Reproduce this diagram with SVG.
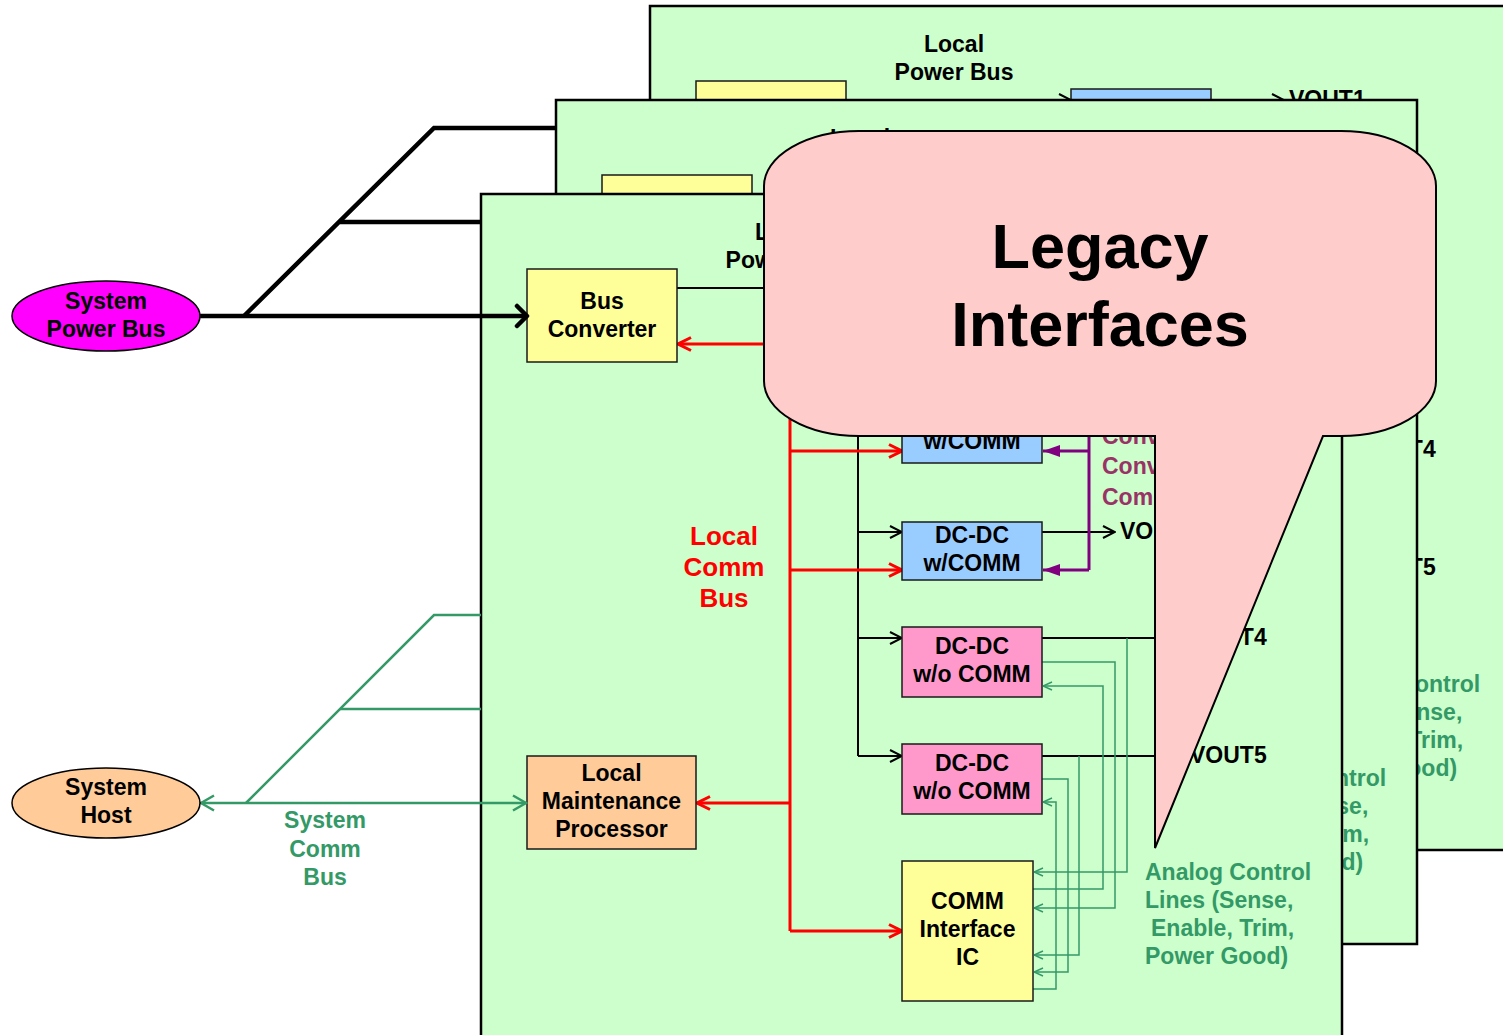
<svg xmlns="http://www.w3.org/2000/svg" width="1503" height="1035" viewBox="0 0 1503 1035">
<style>
.panel{fill:#CCFFCC;stroke:#000;stroke-width:2.5}
.box{stroke:#1a1a1a;stroke-width:1.5}
.yellow{fill:#FFFF99}
.blue{fill:#99CCFF}
.pink{fill:#FF99CC}
.orange{fill:#FFCC99}
.magenta{fill:#FF00FF}
text{font-family:"Liberation Sans",Arial,sans-serif;font-weight:bold;font-size:23px;fill:#000}
.c{text-anchor:middle}
.red-t{fill:#FF0000;font-size:26px}
.grn-t{fill:#339966}
.pur-t{fill:#993366}
.big{font-size:63px}
.w-thin{fill:none;stroke:#000;stroke-width:2}
.w-red{fill:none;stroke:#FF0000;stroke-width:3}
.w-pur{fill:none;stroke:#800080;stroke-width:3}
.w-ana{fill:none;stroke:#339966;stroke-width:1.5}
.w-pwr{fill:none;stroke:#000;stroke-width:4.5}
.w-sys{fill:none;stroke:#339966;stroke-width:2.5}
</style>
<defs>
<marker id="aPwr" markerUnits="userSpaceOnUse" viewBox="0 0 16 26" markerWidth="16" markerHeight="26" refX="13" refY="13" orient="auto"><path d="M3,3 L13,13 L3,23" fill="none" stroke="#000" stroke-width="4.5" stroke-linecap="round" stroke-linejoin="round"/></marker>
<marker id="aBlk" markerUnits="userSpaceOnUse" viewBox="0 0 14 14" markerWidth="14" markerHeight="14" refX="13" refY="7" orient="auto"><path d="M1,1 L13,7 L1,13" fill="none" stroke="#000" stroke-width="2"/></marker>
<marker id="aRed" markerUnits="userSpaceOnUse" viewBox="0 0 16 16" markerWidth="16" markerHeight="16" refX="14" refY="8" orient="auto"><path d="M1,1.5 L14,8 L1,14.5" fill="none" stroke="#FF0000" stroke-width="3"/></marker>
<marker id="aPur" markerUnits="userSpaceOnUse" viewBox="0 0 18 14" markerWidth="18" markerHeight="14" refX="17" refY="7" orient="auto"><path d="M0,1 L17,7 L0,13 Z" fill="#800080"/></marker>
<marker id="aSys" markerUnits="userSpaceOnUse" viewBox="0 0 16 18" markerWidth="16" markerHeight="18" refX="14" refY="9" orient="auto-start-reverse"><path d="M1,1.5 L14,9 L1,16.5" fill="none" stroke="#339966" stroke-width="2.5"/></marker>
<marker id="aAna" markerUnits="userSpaceOnUse" viewBox="0 0 10 10" markerWidth="10" markerHeight="10" refX="9.5" refY="5" orient="auto"><path d="M0.5,1 L9.5,5 L0.5,9" fill="none" stroke="#339966" stroke-width="1.5"/></marker>
</defs>

<!-- back board (copy of the front board) -->
<use id="board-back" href="#board-front" transform="translate(169,-188)"/>
<text id="back-vout1" x="1289" y="107">VOUT1</text>
<!-- middle board (copy of the front board) -->
<use id="board-middle" href="#board-front" transform="translate(75,-94)"/>

<!-- front board -->
<g id="board-front">
  <rect class="panel" x="481" y="194" width="861" height="844"/>
  <g id="connectors-board">
    <!-- local power bus -->
    <path class="w-thin" d="M677,288 H902" marker-end="url(#aBlk)"/>
    <path class="w-thin" d="M858,288 V756"/>
    <path class="w-thin" d="M858,404 H902" marker-end="url(#aBlk)"/>
    <path class="w-thin" d="M858,532 H902" marker-end="url(#aBlk)"/>
    <path class="w-thin" d="M858,638 H902" marker-end="url(#aBlk)"/>
    <path class="w-thin" d="M858,756 H902" marker-end="url(#aBlk)"/>
    <!-- outputs -->
    <path class="w-thin" d="M1042,288 H1115" marker-end="url(#aBlk)"/>
    <path class="w-thin" d="M1042,416 H1115" marker-end="url(#aBlk)"/>
    <path class="w-thin" d="M1042,532 H1115" marker-end="url(#aBlk)"/>
    <path class="w-thin" d="M1042,638 H1185" marker-end="url(#aBlk)"/>
    <path class="w-thin" d="M1042,756 H1185" marker-end="url(#aBlk)"/>
    <!-- local comm bus -->
    <path class="w-red" d="M790,325 V931"/>
    <path class="w-red" d="M790,344 H678" marker-end="url(#aRed)"/>
    <path class="w-red" d="M790,325 H902" marker-end="url(#aRed)"/>
    <path class="w-red" d="M790,451 H902" marker-end="url(#aRed)"/>
    <path class="w-red" d="M790,570 H902" marker-end="url(#aRed)"/>
    <path class="w-red" d="M790,803 H697" marker-end="url(#aRed)"/>
    <path class="w-red" d="M790,931 H902" marker-end="url(#aRed)"/>
    <!-- converter-to-converter comm -->
    <path class="w-pur" d="M1089,325 V570"/>
    <path class="w-pur" d="M1089,325 H1043" marker-end="url(#aPur)"/>
    <path class="w-pur" d="M1089,451 H1043" marker-end="url(#aPur)"/>
    <path class="w-pur" d="M1089,570 H1043" marker-end="url(#aPur)"/>
    <!-- analog control lines -->
    <path class="w-ana" d="M1127,638 V872 H1034" marker-end="url(#aAna)"/>
    <path class="w-ana" d="M1042,662 H1115 V908 H1034" marker-end="url(#aAna)"/>
    <path class="w-ana" d="M1033,889 H1103 V686 H1043" marker-end="url(#aAna)"/>
    <path class="w-ana" d="M1079,756 V955 H1034" marker-end="url(#aAna)"/>
    <path class="w-ana" d="M1042,779 H1068 V972 H1034" marker-end="url(#aAna)"/>
    <path class="w-ana" d="M1033,989 H1056 V802 H1043" marker-end="url(#aAna)"/>
  </g>
  <g id="labels-board">
    <text class="c" x="785" y="240">Local</text>
    <text class="c" x="785" y="268">Power Bus</text>
    <text x="1120" y="539">VOUT3</text>
    <text x="1190" y="645">VOUT4</text>
    <text x="1190" y="763">VOUT5</text>
    <text class="c red-t" x="724" y="545">Local</text>
    <text class="c red-t" x="724" y="576">Comm</text>
    <text class="c red-t" x="724" y="607">Bus</text>
    <text class="pur-t" x="1102" y="444">Converter-to-</text>
    <text class="pur-t" x="1102" y="474">Converter</text>
    <text class="pur-t" x="1102" y="505">Comm</text>
    <text class="grn-t" x="1145" y="880">Analog Control</text>
    <text class="grn-t" x="1145" y="908">Lines (Sense,</text>
    <text class="grn-t" x="1151" y="936">Enable, Trim,</text>
    <text class="grn-t" x="1145" y="964">Power Good)</text>
  </g>
  <g id="bus-converter">
    <rect class="box yellow" x="527" y="269" width="150" height="93"/>
    <text class="c" x="602" y="309">Bus</text>
    <text class="c" x="602" y="337">Converter</text>
  </g>
  <g id="dcdc-comm-1">
    <rect class="box blue" x="902" y="277" width="140" height="70"/>
  </g>
  <g id="dcdc-comm-2">
    <rect class="box blue" x="902" y="393" width="140" height="70"/>
    <text class="c" x="972" y="421">DC-DC</text>
    <text class="c" x="972" y="449">w/COMM</text>
  </g>
  <g id="dcdc-comm-3">
    <rect class="box blue" x="902" y="522" width="140" height="58"/>
    <text class="c" x="972" y="543">DC-DC</text>
    <text class="c" x="972" y="571">w/COMM</text>
  </g>
  <g id="dcdc-nocomm-4">
    <rect class="box pink" x="902" y="627" width="140" height="70"/>
    <text class="c" x="972" y="654">DC-DC</text>
    <text class="c" x="972" y="682">w/o COMM</text>
  </g>
  <g id="dcdc-nocomm-5">
    <rect class="box pink" x="902" y="744" width="140" height="70"/>
    <text class="c" x="972" y="771">DC-DC</text>
    <text class="c" x="972" y="799">w/o COMM</text>
  </g>
  <g id="comm-interface-ic">
    <rect class="box yellow" x="902" y="861" width="131" height="140"/>
    <text class="c" x="967.5" y="909">COMM</text>
    <text class="c" x="967.5" y="937">Interface</text>
    <text class="c" x="967.5" y="965">IC</text>
  </g>
  <g id="local-maintenance-processor">
    <rect class="box orange" x="527" y="756" width="169" height="93"/>
    <text class="c" x="611.5" y="781">Local</text>
    <text class="c" x="611.5" y="809">Maintenance</text>
    <text class="c" x="611.5" y="837">Processor</text>
  </g>
</g>

<!-- system-level connectors -->
<g id="connectors-system">
  <path class="w-pwr" d="M199,316 H527" marker-end="url(#aPwr)"/>
  <path class="w-pwr" d="M244,316 L434,128 H555" stroke-linejoin="miter"/>
  <path class="w-pwr" d="M340,222 H481"/>
  <path class="w-sys" d="M201,803 H526" marker-start="url(#aSys)" marker-end="url(#aSys)"/>
  <path class="w-sys" d="M246,803 L434,615 H481"/>
  <path class="w-sys" d="M340,709 H481"/>
  <text class="c grn-t" x="325" y="828">System</text>
  <text class="c grn-t" x="325" y="857">Comm</text>
  <text class="c grn-t" x="325" y="885">Bus</text>
</g>

<g id="system-power-bus">
  <ellipse class="magenta" cx="106" cy="316" rx="94" ry="35" stroke="#000" stroke-width="1.5"/>
  <text class="c" x="106" y="309">System</text>
  <text class="c" x="106" y="337">Power Bus</text>
</g>
<g id="system-host">
  <ellipse class="orange" cx="106" cy="803" rx="94" ry="35" stroke="#000" stroke-width="1.5"/>
  <text class="c" x="106" y="795">System</text>
  <text class="c" x="106" y="823">Host</text>
</g>

<g id="callout-legacy">
  <path d="M859,436 L1155,436 L1155,848 L1323,436 L1341,436 A95,55 0 0 0 1436,381 L1436,186 A95,55 0 0 0 1341,131 L859,131 A95,55 0 0 0 764,186 L764,381 A95,55 0 0 0 859,436 Z" fill="#FFCCCC" stroke="#000" stroke-width="2"/>
  <text class="c big" x="1100" y="268">Legacy</text>
  <text class="c big" x="1100" y="346">Interfaces</text>
</g>
</svg>
